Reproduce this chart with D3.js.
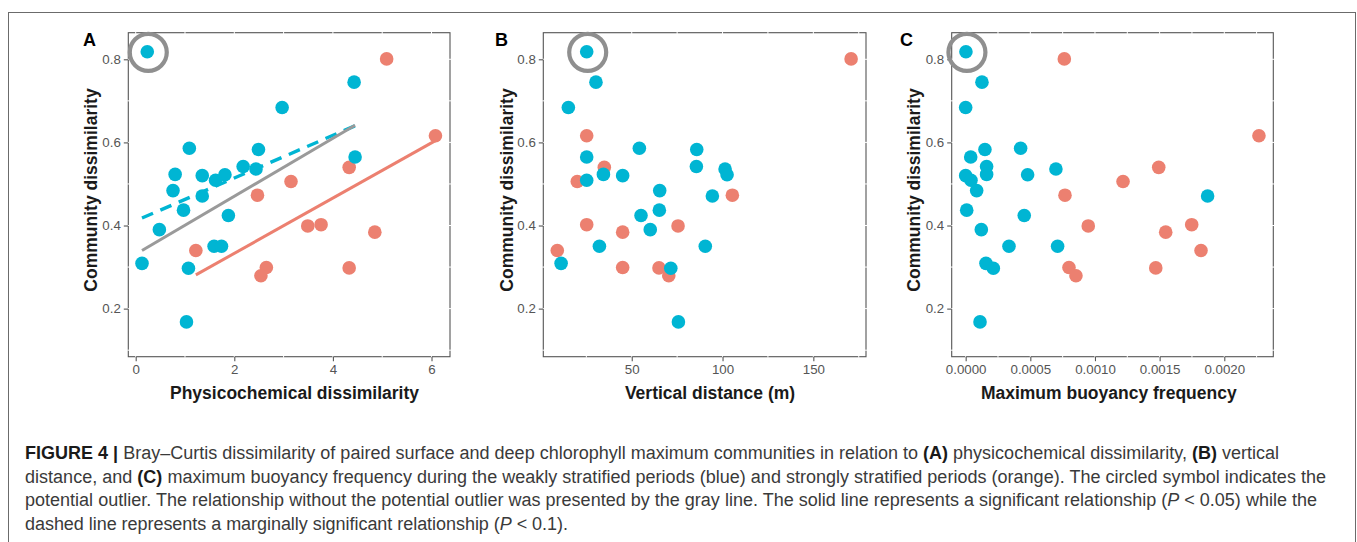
<!DOCTYPE html>
<html>
<head>
<meta charset="utf-8">
<script src="https://cdn.jsdelivr.net/npm/d3@7/dist/d3.min.js"></script>
<style>
  html, body { margin: 0; padding: 0; background: #fff; }
  svg { display: block; font-family: "Liberation Sans", Arial, Helvetica, sans-serif; }
</style>
</head>
<body>
<svg id="chart" width="1357" height="542"></svg>
<script>
// ---------------- DATA ----------------
// Community dissimilarity (y), weakly stratified periods (blue)
const blueDissim = [0.818, 0.745, 0.684, 0.586, 0.583, 0.565, 0.542, 0.536, 0.523, 0.520, 0.522,
                    0.509, 0.484, 0.471, 0.437, 0.424, 0.390, 0.350, 0.350, 0.309, 0.297, 0.168];
const bluePhys = [0.235, 4.43, 2.97, 1.088, 2.49, 4.45, 2.18, 2.44, 0.80, 1.35, 1.81,
                  1.62, 0.757, 1.35, 0.97, 1.88, 0.48, 1.59, 1.74, 0.128, 1.07, 1.03];
const blueVert = [25.2, 30.3, 15.1, 54.2, 85.8, 25.2, 85.6, 101.4, 34.4, 45.0, 102.5,
                  25.2, 65.4, 94.4, 65.2, 55.1, 60.2, 32.2, 90.5, 11.1, 71.5, 75.7];
const blueBuoy = [0.000002, 0.000126, 0.000000, 0.000425, 0.000149, 0.000039, 0.000162, 0.000698, 0.000162, 0.000000, 0.000479,
                  0.000041, 0.000085, 0.001871, 0.000008, 0.000453, 0.000121, 0.000335, 0.000711, 0.000157, 0.000214, 0.000111];

// Strongly stratified periods (orange)
const orangeDissim = [0.801, 0.616, 0.540, 0.506, 0.473, 0.399, 0.402, 0.384, 0.340, 0.299, 0.279, 0.298];
const orangePhys = [5.09, 6.08, 4.33, 3.15, 2.47, 3.49, 3.76, 4.85, 1.22, 2.65, 2.54, 4.33];
const orangeVert = [170.8, 25.2, 34.9, 20.0, 105.4, 75.5, 25.2, 45.0, 9.0, 45.0, 70.4, 65.0];
const orangeBuoy = [0.000763, 0.002268, 0.001493, 0.001217, 0.000768, 0.000948, 0.001748, 0.001547, 0.00182, 0.000799, 0.000853, 0.00147];

// Index of the potential outlier in the blue series
const outlierIndex = 0;

// Fitted relationships in panel A (slope, intercept)
const fitGroups = ["blue", "gray", "orange"];
const fitSlopes = [0.0514, 0.0697, 0.0665];
const fitIntercepts = [0.4114, 0.331, 0.200];
const fitDashed = [true, false, false];

// Tick labels / axis titles
const panelLetters = ["A", "B", "C"];
const xTitles = ["Physicochemical dissimilarity", "Vertical distance (m)", "Maximum buoyancy frequency"];
const yTitle = "Community dissimilarity";
const xTicksA = [0, 2, 4, 6];
const xTicksB = [50, 100, 150];
const xTicksC = [0, 0.0005, 0.001, 0.0015, 0.002];
const yTicks = [0.2, 0.4, 0.6, 0.8];

// ---------------- STYLE ----------------
const BLUE = "#00B5D3";
const ORANGE = "#EC8070";
const GRAY = "#9a9a9a";
const colorOf = { blue: BLUE, orange: ORANGE, gray: GRAY };

const svg = d3.select("#chart");

// outer figure frame
svg.append("rect").attr("x", 8.5).attr("y", 12.5).attr("width", 1347).attr("height", 560)
  .attr("fill", "none").attr("stroke", "#6b6b6b").attr("stroke-width", 1);

const panelTop = 32.7, panelBottom = 356.7;
const yDomain = [0.0843, 0.864];

const panels = [
  { letter: 0, left: 128.3, right: 450, xDomain: [-0.15, 6.375], ticks: xTicksA, minor: [1, 3, 5], fmt: d3.format("d"),
    bx: bluePhys, ox: orangePhys, fits: true, titleX: 294.5, yTitleX: 97, letterX: 83 },
  { letter: 1, left: 543.3, right: 866, xDomain: [1.3, 179], ticks: xTicksB, minor: [25, 75, 125, 175], fmt: d3.format("d"),
    bx: blueVert, ox: orangeVert, fits: false, titleX: 710, yTitleX: 512.7, letterX: 495 },
  { letter: 2, left: 951.7, right: 1273.3, xDomain: [-0.000108, 0.002379], ticks: xTicksC, minor: [0.00025, 0.00075, 0.00125, 0.00175, 0.00225], fmt: d3.format(".4f"),
    bx: blueBuoy, ox: orangeBuoy, fits: false, titleX: 1108.8, yTitleX: 920, letterX: 900 }
];

const yMinor = [0.1, 0.3, 0.5, 0.7];

panels.forEach(p => {
  const x = d3.scaleLinear().domain(p.xDomain).range([p.left, p.right]);
  const y = d3.scaleLinear().domain(yDomain).range([panelBottom, panelTop]);
  const g = svg.append("g");

  // panel border
  g.append("rect").attr("x", p.left).attr("y", panelTop).attr("width", p.right - p.left).attr("height", panelBottom - panelTop)
    .attr("fill", "none").attr("stroke", "#555").attr("stroke-width", 1.1);

  // white grid lines (cut the border as in the reference)
  const gx = p.ticks.concat(p.minor);
  g.selectAll(".vg").data(gx).join("line")
    .attr("x1", d => x(d)).attr("x2", d => x(d)).attr("y1", panelTop - 1).attr("y2", panelBottom + 1)
    .attr("stroke", "#fff").attr("stroke-width", 1);
  const gy = yTicks.concat(yMinor);
  g.selectAll(".hg").data(gy).join("line")
    .attr("y1", d => y(d)).attr("y2", d => y(d)).attr("x1", p.left - 1).attr("x2", p.right + 1)
    .attr("stroke", "#fff").attr("stroke-width", 1);

  // axes
  const xAxis = d3.axisBottom(x).tickValues(p.ticks).tickFormat(p.fmt).tickSize(4.5).tickPadding(3);
  const ax = g.append("g").attr("transform", `translate(0,${panelBottom})`).call(xAxis);
  ax.select(".domain").remove();
  ax.selectAll("line").attr("stroke", "#555").attr("stroke-width", 1.1);
  ax.selectAll("text").attr("fill", "#555").attr("font-size", "13.3px").attr("font-family", "Liberation Sans, Arial, sans-serif");

  const yAxis = d3.axisLeft(y).tickValues(yTicks).tickFormat(d3.format(".1f")).tickSize(4.5).tickPadding(3);
  const ay = g.append("g").attr("transform", `translate(${p.left},0)`).call(yAxis);
  ay.select(".domain").remove();
  ay.selectAll("line").attr("stroke", "#555").attr("stroke-width", 1.1);
  ay.selectAll("text").attr("fill", "#555").attr("font-size", "13.3px").attr("font-family", "Liberation Sans, Arial, sans-serif");

  // fits (panel A)
  if (p.fits) {
    fitGroups.forEach((grp, i) => {
      let xs;
      if (grp === "blue") xs = bluePhys;
      else if (grp === "gray") xs = bluePhys.filter((_, j) => j !== outlierIndex);
      else xs = orangePhys;
      const ext = d3.extent(xs);
      const pts = ext.map(v => [v, fitIntercepts[i] + fitSlopes[i] * v]);
      g.append("path")
        .attr("d", d3.line().x(d => x(d[0])).y(d => y(d[1]))(pts))
        .attr("fill", "none")
        .attr("stroke", colorOf[grp])
        .attr("stroke-width", grp === "blue" ? 3.4 : 3)
        .attr("stroke-dasharray", fitDashed[i] ? "12,8" : null);
    });
  }

  // points
  const blueData = blueDissim.map((v, i) => ({ x: p.bx[i], y: v }));
  const orangeData = orangeDissim.map((v, i) => ({ x: p.ox[i], y: v }));
  g.selectAll(".op").data(orangeData).join("circle")
    .attr("cx", d => x(d.x)).attr("cy", d => y(d.y)).attr("r", 6.8).attr("fill", ORANGE);
  g.selectAll(".bp").data(blueData).join("circle")
    .attr("cx", d => x(d.x)).attr("cy", d => y(d.y)).attr("r", 6.8).attr("fill", BLUE);

  // outlier ring
  const od = blueData[outlierIndex];
  g.append("circle").attr("cx", x(od.x) + 1).attr("cy", y(od.y) + 0.5).attr("r", 18.5)
    .attr("fill", "none").attr("stroke", "#8f8f8f").attr("stroke-width", 4.2);

  // titles
  g.append("text").attr("x", p.titleX).attr("y", 399).attr("text-anchor", "middle")
    .attr("font-size", "17.5px").attr("font-weight", "bold").attr("fill", "#1a1a1a")
    .text(xTitles[p.letter]);
  g.append("text").attr("transform", `translate(${p.yTitleX},190) rotate(-90)`).attr("text-anchor", "middle")
    .attr("font-size", "17.5px").attr("font-weight", "bold").attr("fill", "#1a1a1a")
    .text(yTitle);
  g.append("text").attr("x", p.letterX).attr("y", 45.5)
    .attr("font-size", "18px").attr("font-weight", "bold").attr("fill", "#000")
    .text(panelLetters[p.letter]);
});

// ---------------- CAPTION ----------------
const captionLines = [
  [["FIGURE 4 |", "b"], [" Bray–Curtis dissimilarity of paired surface and deep chlorophyll maximum communities in relation to ", ""], ["(A)", "b"], [" physicochemical dissimilarity, ", ""], ["(B)", "b"], [" vertical", ""]],
  [["distance, and ", ""], ["(C)", "b"], [" maximum buoyancy frequency during the weakly stratified periods (blue) and strongly stratified periods (orange). The circled symbol indicates the", ""]],
  [["potential outlier. The relationship without the potential outlier was presented by the gray line. The solid line represents a significant relationship (", ""], ["P", "i"], [" < 0.05) while the", ""]],
  [["dashed line represents a marginally significant relationship (", ""], ["P", "i"], [" < 0.1).", ""]]
];
const captionWidths = [1254, 1301, 1292, 543];
const captionBaselines = [459, 482.5, 506, 529.5];

const capTexts = captionLines.map((line, li) => {
  const t = svg.append("text").attr("x", 25).attr("y", captionBaselines[li])
    .attr("font-size", "15px").attr("fill", "#3a3a3a");
  line.forEach(([s, st]) => {
    const ts = t.append("tspan").text(s);
    if (st === "b") ts.attr("font-weight", "bold").attr("fill", "#1a1a1a");
    if (st === "i") ts.attr("font-style", "italic");
  });
  return t;
});
// fit font size to the measured line widths
const natural = capTexts.map(t => t.node().getComputedTextLength());
const ratio = d3.sum(captionWidths) / d3.sum(natural);
const capSize = 15 * ratio;
capTexts.forEach((t, i) => {
  t.attr("font-size", capSize.toFixed(2) + "px")
   .attr("textLength", captionWidths[i]).attr("lengthAdjust", "spacing");
});
</script>
</body>
</html>
